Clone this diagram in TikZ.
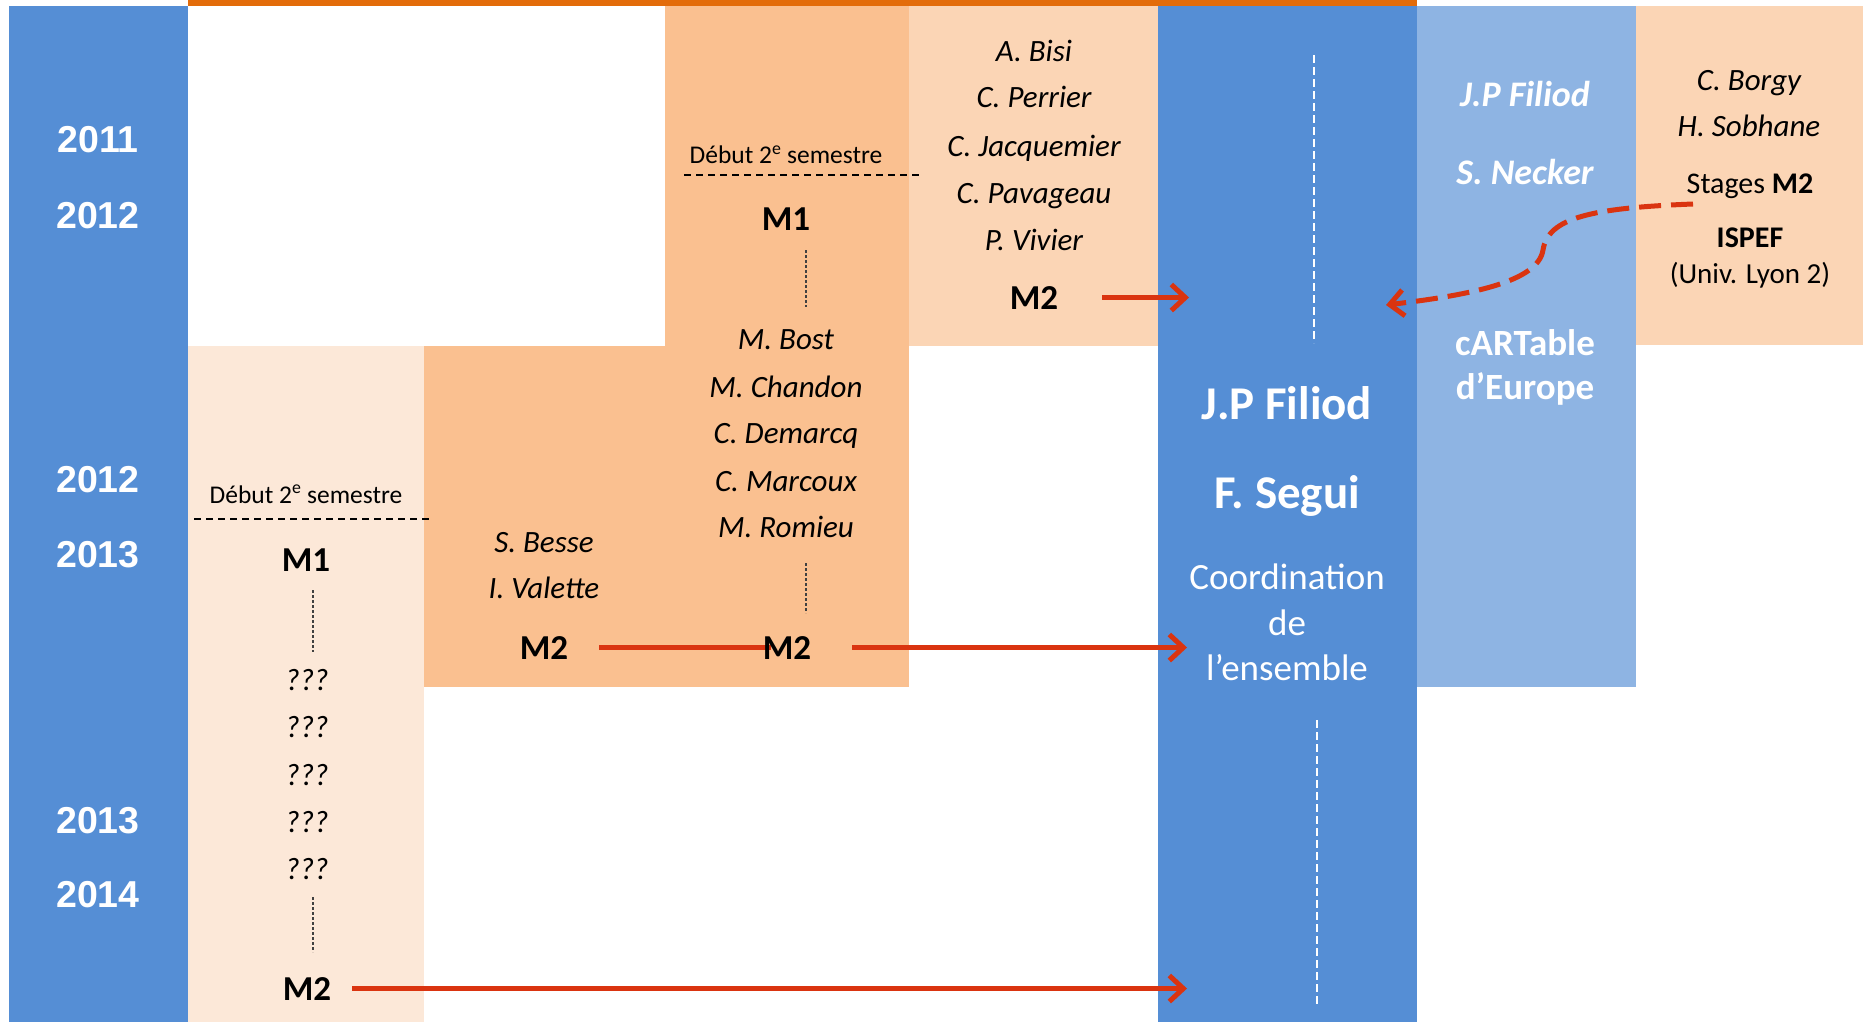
\documentclass[tikz,border=0pt]{standalone}
\usepackage{fontspec}
\setmainfont{Carlito}
\newfontfamily\yearfont{Liberation Sans}
\usetikzlibrary{arrows.meta}
\definecolor{cblue}{RGB}{85,142,213}
\definecolor{clblue}{RGB}{142,180,227}
\definecolor{corange}{RGB}{250,192,144}
\definecolor{cpeach}{RGB}{251,213,181}
\definecolor{cpale}{RGB}{252,232,216}
\definecolor{cbar}{RGB}{227,108,10}
\definecolor{cred}{RGB}{218,52,16}
\newcommand\fsz[1]{\fontsize{#1}{#1}\selectfont}
\pgfdeclarelayer{back}
\pgfsetlayers{back,main}
\begin{document}
\begin{tikzpicture}[x=1pt,y=-1pt,
  every node/.style={inner sep=0pt, anchor=base},
  yeartxt/.style={text=white, font=\yearfont\bfseries\fsz{37.5}},
  persontxt/.style={font=\itshape\fsz{31}},
  lvltxt/.style={font=\bfseries\fsz{35}},
  semtxt/.style={font=\fsz{25.5}},
  bignametxt/.style={text=white, font=\bfseries\fsz{47}},
  coordtxt/.style={text=white, font=\fsz{37}},
  lbnametxt/.style={text=white, font=\bfseries\itshape\fsz{36}},
  lbtxt/.style={text=white, font=\bfseries\fsz{37}},
  rtxt/.style={font=\fsz{30}},
  blackdash/.style={draw=black, line width=2pt, dash pattern=on 7pt off 5pt},
  vdash/.style={draw=black!75, line width=1.2pt, dash pattern=on 3pt off 2pt},
  whitedash/.style={draw=white, line width=2.5pt, dash pattern=on 8pt off 4pt},
  redline/.style={draw=cred, line width=5pt},
  redarrow/.style={draw=cred, line width=5pt, -{Straight Barb[length=14pt,width=26pt]}},
  reddash/.style={draw=cred, line width=5pt, dash pattern=on 22pt off 10pt, -{Straight Barb[length=14pt,width=26pt]}}
]
\useasboundingbox (0,0) rectangle (1863,1022);

% ---- years
\node[yeartxt] (y1) at (98,153) {2011};
\node[yeartxt] (y2) at (98,228) {2012};
\node[yeartxt] (y3) at (98,492) {2012};
\node[yeartxt] (y4) at (98,567) {2013};
\node[yeartxt] (y5) at (98,833) {2013};
\node[yeartxt] (y6) at (98,907) {2014};

% ---- M1 column (2011-2012 students)
\node[semtxt] (sema) at (786,164) {Début 2\textsuperscript{e} semestre};
\node[lvltxt] (m1a) at (786,230) {M1};
\node[persontxt] (bost) at (786,349) {M. Bost};
\node[persontxt] (chandon) at (786,397) {M. Chandon};
\node[persontxt] (demarcq) at (786,443) {C. Demarcq};
\node[persontxt] (marcoux) at (786,491) {C. Marcoux};
\node[persontxt] (romieu) at (786,537) {M. Romieu};
\node[lvltxt] (m2c) at (787,659) {M2};

% ---- Besse column
\node[persontxt] (besse) at (544,552) {S. Besse};
\node[persontxt] (valette) at (544,598) {I. Valette};
\node[lvltxt] (m2b) at (544,659) {M2};

% ---- pale column
\node[semtxt] (semb) at (306,503) {Début 2\textsuperscript{e} semestre};
\node[lvltxt] (m1b) at (306,571) {M1};
\node[persontxt] (q1) at (307,690) {???};
\node[persontxt] (q2) at (307,737) {???};
\node[persontxt] (q3) at (307,785) {???};
\node[persontxt] (q4) at (307,832) {???};
\node[persontxt] (q5) at (307,879) {???};
\node[lvltxt] (m2d) at (307,1000) {M2};

% ---- Bisi column
\node[persontxt] (bisi) at (1034,62) {A. Bisi};
\node[persontxt] (perrier) at (1034,108) {C. Perrier};
\node[persontxt] (jacq) at (1034,157) {C. Jacquemier};
\node[persontxt] (pava) at (1034,203) {C. Pavageau};
\node[persontxt] (vivier) at (1034,250) {P. Vivier};
\node[lvltxt] (m2a) at (1034,309) {M2};

% ---- central blue column
\node[bignametxt] (jpf) at (1287,419) {J.P Filiod};
\node[bignametxt] (segui) at (1287,508) {F. Segui};
\node[coordtxt] (co1) at (1287,589) {Coordination};
\node[coordtxt] (co2) at (1287,635) {de};
\node[coordtxt] (co3) at (1287,680) {l’ensemble};

% ---- light blue column
\node[lbnametxt] (jpf2) at (1525,107) {J.P Filiod};
\node[lbnametxt] (necker) at (1525,184) {S. Necker};
\node[lbtxt] (cart) at (1525,355) {cARTable};
\node[lbtxt] (europe) at (1525,399) {d’Europe};

% ---- right peach column
\node[persontxt] (borgy) at (1749,91) {C. Borgy};
\node[persontxt] (sobhane) at (1749,137) {H. Sobhane};
\node[rtxt] (stages) at (1750,193) {Stages \textbf{M2}};
\node[rtxt, font=\bfseries\fsz{30}] (ispef) at (1750,247) {ISPEF};
\node[rtxt, font=\fsz{29}] (lyon) at (1750,283) {(Univ. Lyon 2)};

% ---- arrow end points inside the central column
\coordinate (tipA) at (1189,296);
\coordinate (tipB) at (1187,649);
\coordinate (tipC) at (1187,988);
\coordinate (cstart) at (1693,204);
\coordinate (ctip) at (1386,305);

\begin{pgfonlayer}{back}
  \fill[white] (0,0) rectangle (1863,1022);
  % colour bands
  \fill[cbar] (188,0) rectangle (1417,6);
  \fill[cblue] (9,6) rectangle (188,1022);
  \fill[cpale] (188,346) rectangle (424,1022);
  \fill[corange] (424,346) rectangle (909,687);
  \fill[corange] (665,6) rectangle (909,346);
  \fill[cpeach] (909,6) rectangle (1158,346);
  \fill[cblue] (1158,6) rectangle (1417,1022);
  \fill[clblue] (1417,6) rectangle (1636,687);
  \fill[cpeach] (1636,6) rectangle (1863,345);
  % separators
  \draw[blackdash] (684,175) -- (922,175);
  \draw[blackdash] (194,519) -- (433,519);
  \draw[vdash] (806,250) -- (806,307);
  \draw[vdash] (806,563) -- (806,613);
  \draw[vdash] (313,590) -- (313,652);
  \draw[vdash] (313,897) -- (313,952);
  \draw[whitedash] (1314,55) -- (1314,343);
  \draw[whitedash] (1317,720) -- (1317,1004);
  % connectors
  \draw[redline] ([xshift=31pt]m2b.east) -- ([xshift=8pt]m2c.west);
  \draw[redarrow] ([xshift=41pt]m2c.east) -- (m2c.east -| tipB);
  \draw[redarrow] ([xshift=44pt]m2a.east) -- (m2a.east -| tipA);
  \draw[redarrow] ([xshift=21pt]m2d.east) -- (m2d.east -| tipC);
  \draw[reddash] (cstart) .. controls (1590,208) and (1548,218) .. (1543,250)
                          .. controls (1538,282) and (1470,295) .. (ctip);
\end{pgfonlayer}
\end{tikzpicture}
\end{document}
